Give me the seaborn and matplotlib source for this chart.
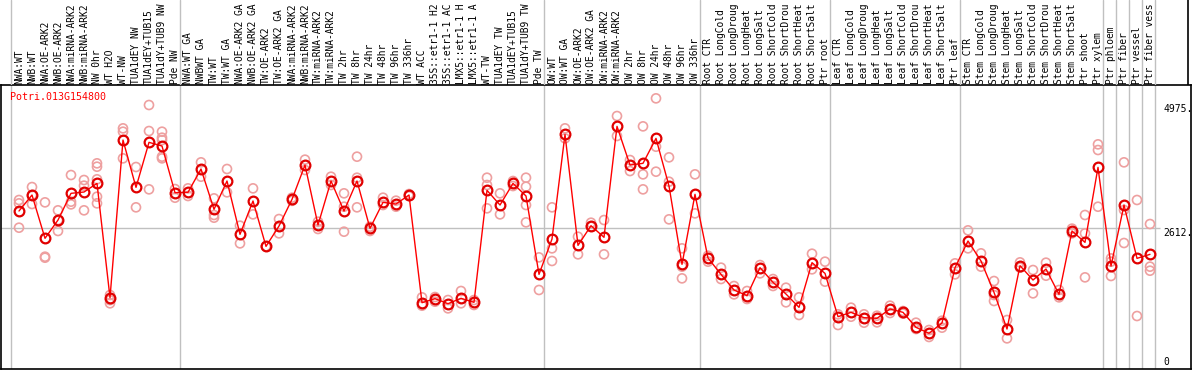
import numpy as np
import pandas as pd
import matplotlib
matplotlib.use("Agg")
import matplotlib.pyplot as plt
import seaborn as sns

# sample labels along the x axis (as far as they show in the strip)
samples = [
    "NWA:WT", "NWB:WT", "NWA:OE-ARK2", "NWB:OE-ARK2", "NWA:miRNA-ARK2", "NWB:miRNA-ARK2",
    "NW 0hr", "WT H2O", "WT-NW", "TUA1dEY NW", "TUA1dEY+TUB15", "TUA1dY+TUB9 NW", "Pde NW",
    "NWA:WT GA", "NWBWT GA", "TW:WT", "TW:WT GA", "NWA:OE-ARK2 GA", "NWB:OE-ARK2 GA",
    "TW:OE-ARK2", "TW:OE-ARK2 GA", "NWA:miRNA-ARK2", "NWB:miRNA-ARK2", "TW:miRNA-ARK2",
    "TW:miRNA-ARK2", "TW 2hr", "TW 8hr", "TW 24hr", "TW 48hr", "TW 96hr", "TW 336hr",
    "WT ACC", "35S::etr1-1 H2", "35S::etr1-1 AC", "LMX5::etr1-1 H", "LMX5::etr1-1 A",
    "WT-TW", "TUA1dEY TW", "TUA1dEY+TUB15", "TUA1dY+TUB9 TW", "Pde TW",
    "OW:WT", "OW:WT GA", "OW:OE-ARK2", "OW:OE-ARK2 GA", "OW:miRNA-ARK2", "OW:miRNA-ARK2",
    "OW 2hr", "OW 8hr", "OW 24hr", "OW 48hr", "OW 96hr", "OW 336hr",
    "Root CTR", "Root LongCold", "Root LongDroug", "Root LongHeat", "Root LongSalt",
    "Root ShortCold", "Root ShortDrou", "Root ShortHeat", "Root ShortSalt", "Ptr root",
    "Leaf CTR", "Leaf LongCold", "Leaf LongDroug", "Leaf LongHeat", "Leaf LongSalt",
    "Leaf ShortCold", "Leaf ShortDrou", "Leaf ShortHeat", "Leaf ShortSalt", "Ptr leaf",
    "Stem CTR", "Stem LongCold", "Stem LongDroug", "Stem LongHeat", "Stem LongSalt",
    "Stem ShortCold", "Stem ShortDrou", "Stem ShortHeat", "Stem ShortSalt", "Ptr shoot",
    "Ptr xylem", "Ptr phloem", "Ptr fiber", "Ptr vessel", "Ptr fiber vess",
]

# mean expression per sample
means = [
    2936, 3241, 2415, 2764, 3273, 3298, 3463, 1284, 4289, 3387, 4245, 4175, 3285,
    3292, 3737, 2968, 3508, 2491, 3127, 2262, 2650, 3158, 3813, 2669, 3508, 2936,
    3508, 2605, 3101, 3069, 3241, 1188, 1265, 1169, 1271, 1195, 3330, 3050, 3463,
    3222, 1728, 2402, 4397, 2281, 2656, 2434, 4550, 3813, 3845, 4321, 3412, 1919,
    3254, 2040, 1728, 1430, 1322, 1856, 1576, 1353, 1099, 1951, 1747, 921, 1004,
    902, 890, 1068, 1004, 718, 604, 801, 1856, 2364, 1983, 1385, 686, 1894, 1620,
    1830, 1347, 2555, 2338, 3768, 1887, 3050, 2033, 2110,
]

# replicate values per sample
reps = [
    [3146, 3082, 2618], [3393, 3241, 3069], [3101, 2065, 2046], [2949, 2764, 2555],
    [3622, 3114, 3063], [3527, 3419, 2949], [3845, 3781, 3540, 3209, 3082],
    [1334, 1237, 1176], [4512, 4448, 3940], [3775, 3006], [4957, 4461, 3349],
    [4448, 4334, 4289, 3972, 3940], [3355, 3190], [3368, 3222], [3864, 3590],
    [3177, 2860, 2809], [3737, 3292], [2656, 2319], [3368, 2872], [2262, 2262],
    [2783, 2510], [3190, 3130], [3915, 3718], [2732, 2593], [3590, 3432],
    [3273, 3018, 2542], [3972, 3571, 3006], [2637, 2555], [3190, 3050],
    [3133, 3018], [3260, 3220], [1290, 1131], [1296, 1207], [1239, 1080],
    [1411, 1176], [1239, 1144], [3571, 3432, 2987], [3273, 2872], [3508, 3412],
    [3571, 3400, 3050, 2720], [2052, 1430], [3006, 2224, 1983], [4512, 4321],
    [2446, 2110], [2713, 2637], [2764, 2110], [4747, 4366], [3908, 3698],
    [4550, 3635, 3349], [5084, 4162, 3686], [3959, 3495, 2777], [2224, 1875, 1652],
    [3635, 2891], [2084, 1970], [1856, 1639], [1506, 1347], [1411, 1258],
    [1906, 1747], [1639, 1506], [1474, 1195], [1290, 953], [2122, 1824],
    [1970, 1589], [966, 762], [1093, 921], [966, 807], [940, 813], [1131, 991],
    [1029, 980], [807, 686], [667, 534], [845, 712], [1938, 1728], [2567, 2224],
    [2129, 1875], [1601, 1334, 1220], [858, 508], [1957, 1856], [1811, 1366],
    [1951, 1703], [1430, 1290], [2510, 2600], [2860, 2510, 1671],
    [4207, 4099, 3018], [2033, 1970, 1697], [3864, 2955, 2326], [3146, 934],
    [2688, 1875, 1798],
]

gene = "Potri.013G154800"
group_breaks = [0, 13, 41, 53, 63, 73, 84, 85, 86, 87, 88]
tick_vals = [4975, 2612, 0]
tick_text = ["4975.", "2612.", "0"]

red = "#ff0000"
pale = "#eea0a0"
grey = "#c0c0c0"

idx = np.arange(len(samples))
df_mean = pd.DataFrame({"pos": idx, "value": means})
df_rep = pd.DataFrame(
    [(i, v) for i, vals in enumerate(reps) for v in vals], columns=["pos", "value"]
)

sns.set_style("white")
plt.rcParams["font.family"] = ["DejaVu Sans Mono"]

W, H = 1194, 370
fig = plt.figure(figsize=(W / 100, H / 100), dpi=100)

# pixel helpers for the layout
xlo = (1 - 19) / 13
xhi = (1191 - 19) / 13
ylo = (365 - 369) * 19.066
yhi = (365 - 85) * 19.066

ax = fig.add_axes([1 / W, (H - 369) / H, 1190 / W, 284 / H])
ax.set_xlim(xlo, xhi)
ax.set_ylim(ylo, yhi)

for k in group_breaks:
    ax.axvline(k - 0.615, color=grey, lw=1, zorder=0)
ax.hlines(2612, xlo, (1160 - 19) / 13, color=grey, lw=1, zorder=0)

sns.scatterplot(data=df_rep, x="pos", y="value", ax=ax, marker="o", s=42,
                facecolors="none", edgecolors=pale, linewidth=1.2, zorder=2,
                legend=False)
sns.lineplot(data=df_mean, x="pos", y="value", ax=ax, color=red, lw=1,
             marker="o", markersize=7, markerfacecolor="none",
             markeredgecolor="#e00000", markeredgewidth=1.6, zorder=3)

ax.set_xlabel("")
ax.set_ylabel("")
ax.set_xticks([])
ax.set_yticks([])
for s in ax.spines.values():
    s.set_color("black")
    s.set_linewidth(1.2)

ax.text((10 - 19) / 13, (365 - 97) * 19.066, gene, color=red,
        fontsize=7.2, ha="left", va="center")

tx = (1163 - 19) / 13
for v, t in zip(tick_vals, tick_text):
    if v == 0:
        ax.text(tx, 60, t, fontsize=7, ha="left", va="center", color="black")
    else:
        ax.text(tx, v, t, fontsize=7, ha="left", va="top", color="black")

# label strip above the plot
lab = fig.add_axes([1 / W, (H - 85) / H, 1190 / W, 85 / H])
lab.set_xlim(xlo, xhi)
lab.set_ylim(0, 85)
lab.axis("off")
for k in group_breaks:
    lab.axvline(k - 0.615, color=grey, lw=1, zorder=0)
lab.axvline((1188 - 19) / 13, color="black", lw=1.2)
for i, name in enumerate(samples):
    lab.text(i, 1.5, name, rotation=90, ha="center", va="bottom", fontsize=6.9,
             color="black")

plt.savefig("out.png", dpi=100)
